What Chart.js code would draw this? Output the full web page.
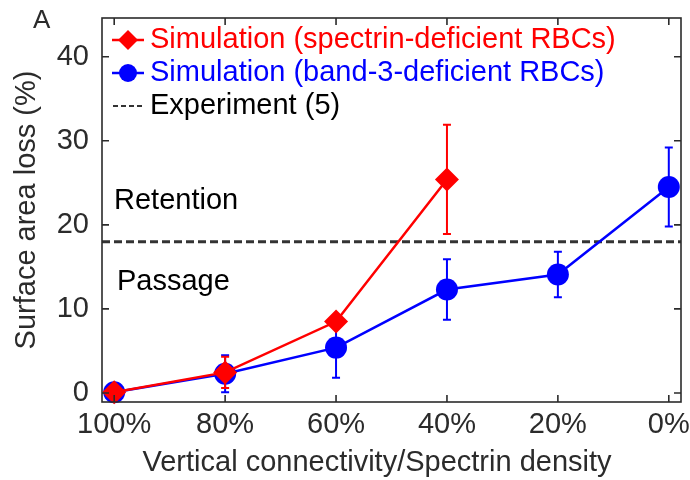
<!DOCTYPE html>
<html>
<head>
<meta charset="utf-8">
<script src="https://cdn.jsdelivr.net/npm/chart.js@4.4.0/dist/chart.umd.min.js"></script>
<style>
  html, body { margin: 0; padding: 0; background: #fff; }
</style>
</head>
<body>
<canvas id="chart" width="690" height="480"></canvas>
<script>
// x categories (left to right) and y ticks
const densityLabels = ['100%', '80%', '60%', '40%', '20%', '0%'];
const yTicks = [0, 10, 20, 30, 40];

// spectrin-deficient RBCs (only down to 40%)
const spectrinLoss = [0.1, 2.45, 8.5, 25.4];
const spectrinErr = [0.4, 1.85, 0.5, 6.5];

// band-3-deficient RBCs
const band3Loss = [0.1, 2.3, 5.4, 12.3, 14.1, 24.5];
const band3Err = [0.5, 2.2, 3.6, 3.6, 2.7, 4.7];

// experimental threshold (ref. 5)
const experimentLoss = 18;

const X_MIN = -0.11, X_MAX = 5.11;
const Y_MIN = -1.07, Y_MAX = 44.6;
const AXIS_COLOR = '#2b2b2b';
const FONT = '"Liberation Sans", Arial, Helvetica, sans-serif';
const FONT_SIZE = 29;

const toPoints = arr => arr.map((v, i) => ({ x: i, y: v }));

// error bars under each dataset's markers
const errorBars = {
  id: 'errorBars',
  beforeDatasetDraw(chart, args) {
    const ds = chart.data.datasets[args.index];
    if (!ds.errors) return;
    const { ctx, scales: { x, y } } = chart;
    ctx.save();
    ctx.strokeStyle = ds.borderColor;
    ctx.lineWidth = 2;
    ds.data.forEach((p, i) => {
      const e = ds.errors[i];
      const px = x.getPixelForValue(p.x);
      const top = y.getPixelForValue(p.y + e);
      const bot = y.getPixelForValue(p.y - e);
      ctx.beginPath();
      ctx.moveTo(px, top); ctx.lineTo(px, bot);
      ctx.moveTo(px - 4, top); ctx.lineTo(px + 4, top);
      ctx.moveTo(px - 4, bot); ctx.lineTo(px + 4, bot);
      ctx.stroke();
    });
    ctx.restore();
  }
};

// boxed axes with inward ticks, legend and region labels
const frame = {
  id: 'frame',
  afterDraw(chart) {
    const { ctx, chartArea: a, scales: { x, y } } = chart;
    ctx.save();
    ctx.strokeStyle = AXIS_COLOR;
    ctx.lineWidth = 1.6;
    ctx.strokeRect(a.left, a.top, a.right - a.left, a.bottom - a.top);
    ctx.beginPath();
    densityLabels.forEach((_, i) => {
      const px = x.getPixelForValue(i);
      ctx.moveTo(px, a.bottom); ctx.lineTo(px, a.bottom - 7);
      ctx.moveTo(px, a.top); ctx.lineTo(px, a.top + 7);
    });
    yTicks.forEach(v => {
      const py = y.getPixelForValue(v);
      ctx.moveTo(a.left, py); ctx.lineTo(a.left + 7, py);
      ctx.moveTo(a.right, py); ctx.lineTo(a.right - 7, py);
    });
    ctx.stroke();

    ctx.textBaseline = 'middle';
    ctx.fillStyle = AXIS_COLOR;
    ctx.font = FONT_SIZE + 'px ' + FONT;
    ctx.textAlign = 'center';
    ctx.fillText('Vertical connectivity/Spectrin density', 377, 463);

    ctx.textAlign = 'left';
    ctx.font = '26px ' + FONT;
    ctx.fillText('A', 33, 21);
    ctx.font = FONT_SIZE + 'px ' + FONT;
    ctx.fillStyle = '#000';
    ctx.fillText('Retention', 114, 201);
    ctx.fillText('Passage', 117, 282);

    // legend
    chart.data.datasets.forEach((ds, k) => {
      const cy = 40 + k * 33;
      ctx.save();
      ctx.strokeStyle = ds.borderColor;
      if (ds.pointRadius) {
        ctx.lineWidth = ds.borderWidth;
        ctx.beginPath();
        ctx.moveTo(112, cy); ctx.lineTo(144, cy);
        ctx.stroke();
      } else {
        ctx.lineWidth = 2;
        ctx.setLineDash([5, 3]);
        ctx.beginPath();
        ctx.moveTo(113, cy); ctx.lineTo(143, cy);
        ctx.stroke();
      }
      ctx.restore();
      if (ds.pointRadius) {
        ctx.fillStyle = ds.pointBackgroundColor;
        Chart.helpers.drawPoint(ctx, {
          pointStyle: ds.pointStyle, radius: ds.pointRadius - 2, borderWidth: 0, rotation: 0
        }, 128, cy);
      }
      ctx.fillStyle = ds.legendColor;
      ctx.fillText(ds.label, 150, cy);
    });
    ctx.restore();
  }
};

new Chart(document.getElementById('chart'), {
  type: 'line',
  data: {
    datasets: [
      {
        label: 'Simulation (spectrin-deficient RBCs)',
        data: toPoints(spectrinLoss),
        errors: spectrinErr,
        borderColor: '#ff0000',
        borderWidth: 2.5,
        pointStyle: 'rectRot',
        pointRadius: 12,
        pointBackgroundColor: '#ff0000',
        pointBorderWidth: 0,
        legendColor: '#ff0000',
        clip: false,
        order: 1
      },
      {
        label: 'Simulation (band-3-deficient RBCs)',
        data: toPoints(band3Loss),
        errors: band3Err,
        borderColor: '#0000ff',
        borderWidth: 2.5,
        pointStyle: 'circle',
        pointRadius: 11,
        pointBackgroundColor: '#0000ff',
        pointBorderWidth: 0,
        legendColor: '#0000ff',
        clip: false,
        order: 2
      },
      {
        label: 'Experiment (5)',
        data: [{ x: X_MIN, y: experimentLoss }, { x: X_MAX, y: experimentLoss }],
        borderColor: '#333333',
        borderWidth: 3,
        borderDash: [8, 4],
        pointRadius: 0,
        legendColor: '#000',
        order: 3
      }
    ]
  },
  options: {
    responsive: false,
    animation: false,
    devicePixelRatio: 1,
    layout: { padding: { left: 0, top: 18, right: 9, bottom: 0 }, autoPadding: false },
    plugins: { legend: { display: false }, tooltip: { enabled: false } },
    scales: {
      x: {
        type: 'linear',
        min: X_MIN,
        max: X_MAX,
        grid: { display: false, drawTicks: false },
        border: { display: false },
        afterBuildTicks: s => { s.ticks = densityLabels.map((_, i) => ({ value: i })); },
        afterFit: s => { s.height = 78; s.paddingLeft = 0; s.paddingRight = 0; },
        ticks: {
          callback: v => densityLabels[v],
          color: AXIS_COLOR,
          font: { family: FONT, size: FONT_SIZE },
          padding: 6,
          maxRotation: 0,
          autoSkip: false
        }
      },
      y: {
        min: Y_MIN,
        max: Y_MAX,
        grid: { display: false, drawTicks: false },
        border: { display: false },
        afterBuildTicks: s => { s.ticks = yTicks.map(v => ({ value: v })); },
        afterFit: s => { s.width = 102; s.paddingTop = 0; s.paddingBottom = 0; },
        ticks: {
          color: AXIS_COLOR,
          font: { family: FONT, size: FONT_SIZE },
          padding: 13
        },
        title: {
          display: true,
          text: 'Surface area loss (%)',
          color: AXIS_COLOR,
          font: { family: FONT, size: FONT_SIZE, lineHeight: 1.2 },
          padding: { top: 10, bottom: 0 }
        }
      }
    }
  },
  plugins: [errorBars, frame]
});
</script>
</body>
</html>
